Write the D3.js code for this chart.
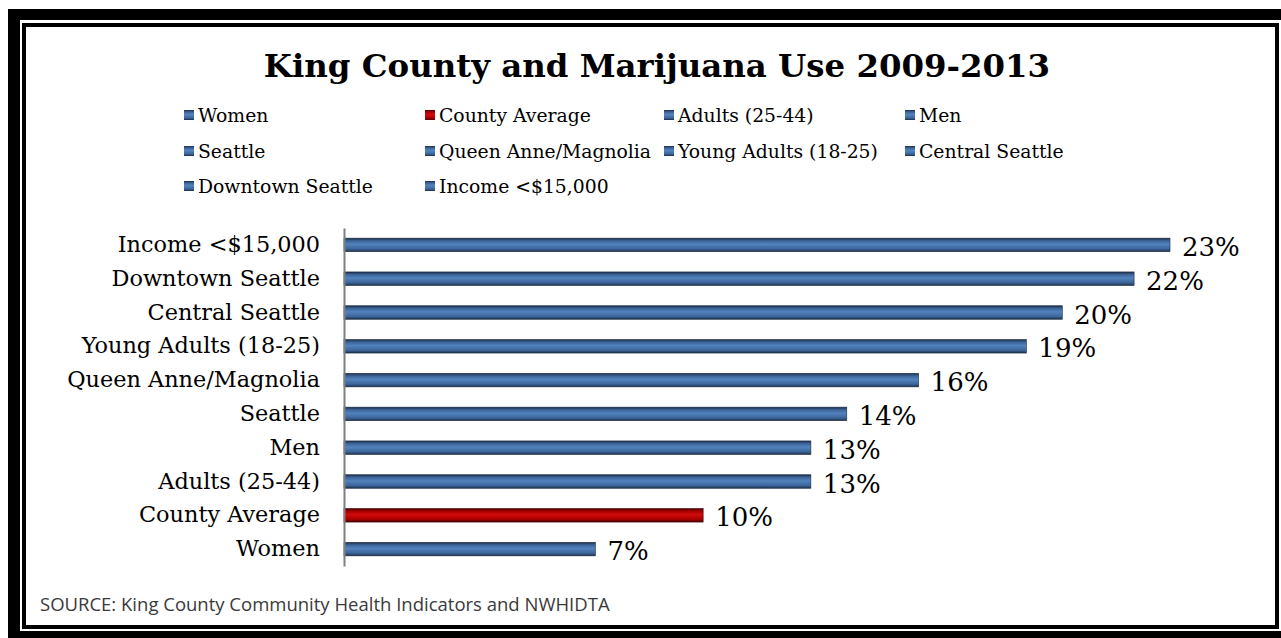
<!DOCTYPE html>
<html>
<head>
<meta charset="utf-8">
<script src="https://cdn.jsdelivr.net/npm/d3@7"></script>
<style>
  html, body { margin: 0; padding: 0; background: #fff; }
  svg { display: block; }
</style>
</head>
<body>
<svg id="chart" width="1281" height="638"></svg>
<script>
// ---- data ----
const categories = ["Women", "County Average", "Adults (25-44)", "Men", "Seattle",
  "Queen Anne/Magnolia", "Young Adults (18-25)", "Central Seattle", "Downtown Seattle", "Income <$15,000"];
const values = [7, 10, 13, 13, 14, 16, 19, 20, 22, 23];
const highlight = ["County Average"];
const titleText = "King County and Marijuana Use 2009-2013";
const sourceText = "SOURCE: King County Community Health Indicators and NWHIDTA";

const W = 1281, H = 638;
const svg = d3.select("#chart");
const serif = "'DejaVu Serif', 'Liberation Serif', serif";

// ---- frame ----
svg.append("rect").attr("x", 8).attr("y", 9).attr("width", 1400).attr("height", 700).attr("fill", "#000");
svg.append("rect").attr("x", 20).attr("y", 20).attr("width", 1300).attr("height", 611).attr("fill", "#fff");
svg.append("rect").attr("x", 24).attr("y", 25).attr("width", 1253).attr("height", 602)
  .attr("fill", "#fff").attr("stroke", "#000").attr("stroke-width", 4);

// ---- gradients ----
const defs = svg.append("defs");
function grad(id, edge, mid, light) {
  const g = defs.append("linearGradient").attr("id", id)
    .attr("x1", 0).attr("y1", 0).attr("x2", 0).attr("y2", 1);
  [[0, edge], [0.2, mid], [0.45, light], [0.8, mid], [1, edge]].forEach(([o, c]) =>
    g.append("stop").attr("offset", o).attr("stop-color", c));
}
grad("gBlue", "#1c2f48", "#3c659a", "#5283bd");
grad("gRed", "#4a0000", "#a80000", "#d20a0a");

// ---- scales ----
const x = d3.scaleLinear().domain([0, 23]).range([344, 1170]);
const y = d3.scaleBand().domain(categories.slice().reverse()).range([228, 566]).paddingInner(0.6).paddingOuter(0.3);

// ---- title ----
svg.append("text").attr("x", 657).attr("y", 77).attr("text-anchor", "middle")
  .attr("font-family", serif).attr("font-weight", "bold").attr("font-size", 32.4)
  .attr("fill", "#000").text(titleText);

// ---- legend ----
const legCols = [184, 425, 664, 905];
const legRows = [115, 151, 186];
const leg = svg.append("g");
categories.forEach((c, i) => {
  const cx = legCols[i % 4], cy = legRows[Math.floor(i / 4)];
  const isH = highlight.includes(c);
  leg.append("rect").attr("x", cx).attr("y", cy - 5).attr("width", 10).attr("height", 10)
    .attr("fill", isH ? "url(#gRed)" : "url(#gBlue)");
  leg.append("text").attr("x", cx + 14).attr("y", cy).attr("dy", "0.35em")
    .attr("font-family", serif).attr("font-size", 18.8).attr("fill", "#000").text(c);
});

// ---- bars ----
const data = categories.map((c, i) => ({ c, v: values[i] }));
svg.append("g").selectAll("rect").data(data).join("rect")
  .attr("x", x(0)).attr("y", d => y(d.c)).attr("width", d => x(d.v) - x(0)).attr("height", y.bandwidth())
  .attr("fill", d => highlight.includes(d.c) ? "url(#gRed)" : "url(#gBlue)")
  .attr("stroke", d => highlight.includes(d.c) ? "#3a0000" : "#1a2a40").attr("stroke-width", 0.6);

// value labels
svg.append("g").selectAll("text").data(data).join("text")
  .attr("x", d => x(d.v) + 12).attr("y", d => y(d.c) + y.bandwidth() / 2 + 2).attr("dy", "0.35em")
  .attr("font-family", serif).attr("font-size", 26).attr("fill", "#000")
  .text(d => d.v + "%");

// ---- axis ----
const yAxis = d3.axisLeft(y).tickSize(0).tickPadding(24);
const ag = svg.append("g").attr("transform", `translate(${x(0)},0)`).call(yAxis);
ag.select(".domain").attr("stroke", "#7f7f7f").attr("stroke-width", 2);
ag.selectAll("text").attr("font-family", serif).attr("font-size", 22.4).attr("fill", "#000");

// ---- source ----
svg.append("text").attr("x", 40).attr("y", 605).attr("dy", "0.35em")
  .attr("font-family", "'Open Sans', 'Liberation Sans', sans-serif").attr("font-size", 18.5)
  .attr("fill", "#3a3a3a").text(sourceText);
</script>
</body>
</html>
